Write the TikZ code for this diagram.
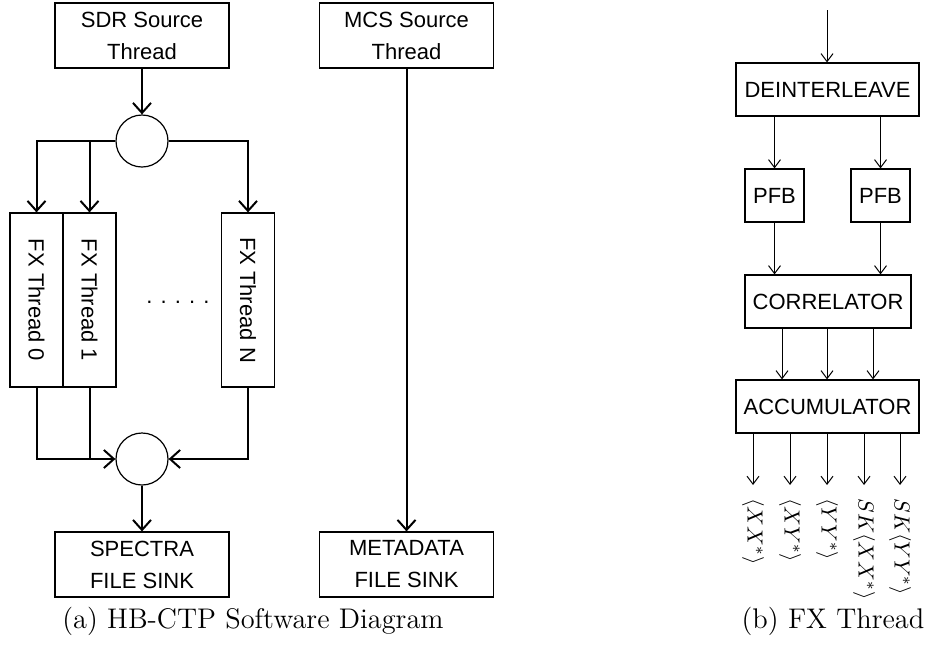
\documentclass[tikz,border=0pt]{standalone}
\usepackage{fontspec}
\setsansfont{Liberation Sans}
\usetikzlibrary{arrows.meta}
\tikzset{
  blk/.style={draw, line width=0.6pt, inner sep=0pt, align=center,
    font=\sffamily\fontsize{11}{16}\selectfont},
  junc/.style={draw, circle, line width=0.6pt, minimum size=26pt, inner sep=0pt},
  flow/.style={line width=1pt, -{Straight Barb[length=5pt,width=9pt]}},
  thinflow/.style={line width=0.5pt, -{Straight Barb[length=4pt,width=6pt]}},
  figcap/.style={font=\fontsize{14.2}{17}\selectfont}
}
\begin{document}
\begin{tikzpicture}[x=0.5pt, y=-0.5pt]
\useasboundingbox (0,0) rectangle (930,649);
% (a) software diagram
\node[blk, minimum width=87pt, minimum height=32.5pt] (sdr) at (142,35.5) {SDR Source\\Thread};
\node[blk, minimum width=87pt, minimum height=32.5pt] (mcs) at (406.5,35.5) {MCS Source\\Thread};
\node[junc] (split) at (142,141) {};
\foreach \id/\xx/\lbl in {fx0/36.5/0, fx1/89.5/1, fxN/248/N}
  \node[blk, minimum width=26.5pt, minimum height=87pt] (\id) at (\xx,300) {\rotatebox{-90}{FX Thread \lbl}};
\node[font=\sffamily\fontsize{11}{16}\selectfont, anchor=base] (dots) at (178,303) {. . . . .};
\node[junc] (merge) at (142,459) {};
\node[blk, minimum width=87pt, minimum height=32.5pt] (spectra) at (142,564.5) {SPECTRA\\FILE SINK};
\node[blk, minimum width=87pt, minimum height=32.5pt] (meta) at (406.5,564.5) {METADATA\\FILE SINK};

\draw[flow] (sdr) -- (split);
\draw[flow] (split.west) -| (fx0.north);
\draw[flow] (fx1.north |- split.west) -- (fx1.north);
\draw[flow] (split.east) -| (fxN.north);
\draw[flow] (fx0.south) |- (merge.west);
\draw[line width=1pt] (fx1.south) -- (fx1.south |- merge.west);
\draw[flow] (fxN.south) |- (merge.east);
\draw[flow] (merge) -- (spectra);
\draw[flow] (mcs) -- (meta);

\node[figcap] (capa) at (253,621) {(a) HB-CTP Software Diagram};

% (b) FX thread
\coordinate (in) at (827,10);
\node[blk, minimum width=91.5pt, minimum height=26.5pt] (deint) at (827.5,89.5) {DEINTERLEAVE};
\node[blk, minimum width=29.5pt, minimum height=26.5pt] (pfb1) at (774.5,195.5) {PFB};
\node[blk, minimum width=29.5pt, minimum height=26.5pt] (pfb2) at (880.5,195.5) {PFB};
\node[blk, minimum width=83pt, minimum height=26.5pt] (corr) at (828,301.5) {CORRELATOR};
\node[blk, minimum width=91.5pt, minimum height=26.5pt] (acc) at (827.5,406.5) {ACCUMULATOR};

\draw[thinflow] (in) -- (in |- deint.north);
\draw[thinflow] (deint.south -| pfb1) -- (pfb1);
\draw[thinflow] (deint.south -| pfb2) -- (pfb2);
\draw[thinflow] (pfb1) -- (pfb1 |- corr.north);
\draw[thinflow] (pfb2) -- (pfb2 |- corr.north);
\foreach \xx in {782,827,873}
  \draw[thinflow] (corr.south -| \xx,0) -- (acc.north -| \xx,0);

\foreach \xx/\lbl [count=\i] in {753/{\langle XX^*\rangle}, 790/{\langle XY^*\rangle}, 827/{\langle YY^*\rangle},
    864/{SK\langle XX^*\rangle}, 900/{SK\langle YY^*\rangle}}
  \node[rotate=-90, anchor=west, inner xsep=6.5pt, inner ysep=1pt,
    font=\fontsize{11}{13}\selectfont] (out\i) at (\xx,485) {$\lbl$};
\foreach \i in {1,...,5}
  \draw[thinflow] (acc.south -| out\i.west) -- (out\i.west);

\node[figcap] (capb) at (833,621) {(b) FX Thread};
\end{tikzpicture}
\end{document}
